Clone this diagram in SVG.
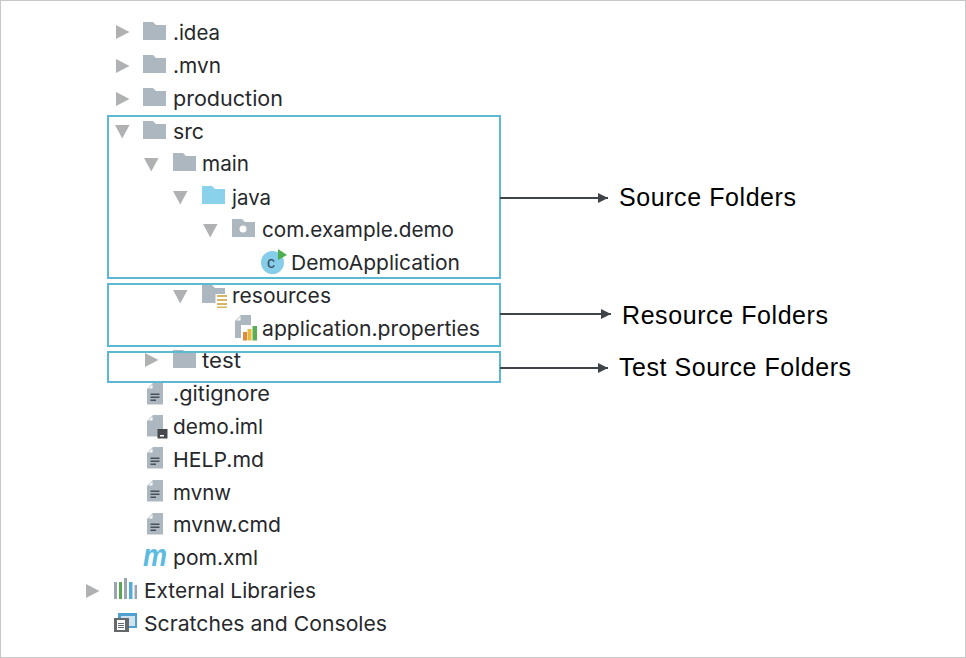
<svg xmlns="http://www.w3.org/2000/svg" width="966" height="658" viewBox="0 0 966 658">
<style>
.t{font-family:"Inter","Noto Sans",sans-serif;font-size:20.500px;fill:#26282b}
.l{font-family:"Liberation Sans",Arial,sans-serif;font-size:25px;fill:#000}
.box{fill:none;stroke:#5bb9d2;stroke-width:2}
.c{fill:none;stroke:#3f444a;stroke-width:2}
.g{fill:#afb1b3}
.f{fill:#adb7c0}
</style>
<defs>
<path id="right" class="g" d="M0 0L13.500 7L0 14Z"/>
<path id="down" class="g" d="M0 0L14.500 0L7.250 13.500Z"/>
<path id="folder" d="M0 0H10L13 3H23V18H0Z"/>
<g id="file">
<path class="f" d="M6 0H16V21.500H0V6Z"/>
<path fill="#fff" d="M1.500 5.500L5.500 1.500V5.500Z"/>
</g>
<g id="lines"><path fill="#4a5058" d="M3.500 10.500H12.500V12H3.500ZM3.500 13.500H12.500V15H3.500ZM3.500 16.500H9V18H3.500Z"/></g>
<marker id="arr" markerUnits="userSpaceOnUse" markerWidth="11" markerHeight="12" refX="10" refY="6" orient="auto"><path fill="#3f444a" d="M0 1L10 6L0 11Z"/></marker>
</defs>
<rect x="0.500" y="0.500" width="965" height="657" fill="#fff" stroke="#c8c8c8"/>

<g id="node-idea"><use href="#right" x="116" y="25"/><use href="#folder" class="f" x="143" y="22"/><text class="t" x="173" y="40" textLength="47" lengthAdjust="spacingAndGlyphs">.idea</text></g>
<g id="node-mvn"><use href="#right" x="116" y="59"/><use href="#folder" class="f" x="143" y="55"/><text class="t" x="173" y="73" textLength="48" lengthAdjust="spacingAndGlyphs">.mvn</text></g>
<g id="node-production"><use href="#right" x="116" y="92"/><use href="#folder" class="f" x="143" y="88"/><text class="t" x="173" y="106" textLength="110" lengthAdjust="spacingAndGlyphs">production</text></g>
<g id="node-src"><use href="#down" x="115" y="125"/><use href="#folder" class="f" x="143" y="121"/><text class="t" x="173" y="139" textLength="31" lengthAdjust="spacingAndGlyphs">src</text></g>
<g id="node-main"><use href="#down" x="144" y="158"/><use href="#folder" class="f" x="173" y="153"/><text class="t" x="202" y="171" textLength="47" lengthAdjust="spacingAndGlyphs">main</text></g>
<g id="node-java"><use href="#down" x="173" y="191"/><use href="#folder" fill="#8ad2ec" x="202" y="186"/><text class="t" x="232" y="205" textLength="39" lengthAdjust="spacingAndGlyphs">java</text></g>
<g id="node-package"><use href="#down" x="203" y="224"/><use href="#folder" class="f" x="232" y="219"/><circle cx="243" cy="229" r="3.500" fill="#fff"/><text class="t" x="262" y="237" textLength="192" lengthAdjust="spacingAndGlyphs">com.example.demo</text></g>
<g id="node-demoapp"><circle cx="272.500" cy="262.500" r="11.500" fill="#85cde8"/><text x="267" y="268" font-family="Liberation Sans,sans-serif" font-size="16" fill="#34485a">c</text><path fill="#4cae4f" d="M278 249L287 255L278 260Z"/><text class="t" x="291" y="270" textLength="169" lengthAdjust="spacingAndGlyphs">DemoApplication</text></g>
<g id="node-resources"><use href="#down" x="173" y="290"/><use href="#folder" class="f" x="202" y="285"/><rect x="215.500" y="294" width="12" height="15" fill="#fff"/><path fill="#d9b566" d="M217 295H227V297H217ZM217 299H227V301H217ZM217 303H227V305H217ZM217 306.500H227V308H217Z"/><text class="t" x="232" y="303" textLength="99" lengthAdjust="spacingAndGlyphs">resources</text></g>
<g id="node-properties"><use href="#file" x="235" y="315"/><path class="f" d="M235 321V338H251V321Z"/><rect x="241" y="325" width="17" height="16" fill="#fff"/><rect x="243" y="332" width="4" height="8.500" fill="#e08a3c"/><rect x="247.500" y="329" width="4" height="11.500" fill="#e8b93f"/><rect x="252.500" y="326" width="4.500" height="14.500" fill="#5cae54"/><text class="t" x="262" y="336" textLength="218" lengthAdjust="spacingAndGlyphs">application.properties</text></g>
<g id="node-test"><use href="#right" x="145" y="353"/><use href="#folder" class="f" x="173" y="350"/><text class="t" x="202" y="368" textLength="39" lengthAdjust="spacingAndGlyphs">test</text></g>
<g id="node-gitignore"><g transform="translate(147,383)"><use href="#file"/><use href="#lines"/></g><text class="t" x="173" y="401" textLength="97" lengthAdjust="spacingAndGlyphs">.gitignore</text></g>
<g id="node-demoiml"><g transform="translate(147,415)"><use href="#file"/></g><rect x="157.500" y="429" width="10" height="9.500" fill="#45484c"/><rect x="160" y="435" width="4" height="1.500" fill="#fff"/><text class="t" x="173" y="434" textLength="90" lengthAdjust="spacingAndGlyphs">demo.iml</text></g>
<g id="node-help"><g transform="translate(147,447)"><use href="#file"/><use href="#lines"/></g><text class="t" x="173" y="467" textLength="91" lengthAdjust="spacingAndGlyphs">HELP.md</text></g>
<g id="node-mvnw"><g transform="translate(147,480)"><use href="#file"/><use href="#lines"/></g><text class="t" x="173" y="500" textLength="58" lengthAdjust="spacingAndGlyphs">mvnw</text></g>
<g id="node-mvnwcmd"><g transform="translate(147,513)"><use href="#file"/><use href="#lines"/></g><text class="t" x="173" y="532" textLength="108" lengthAdjust="spacingAndGlyphs">mvnw.cmd</text></g>
<g id="node-pom"><text x="143" y="566" font-family="Liberation Sans,sans-serif" font-size="31" font-style="italic" font-weight="700" fill="#5bbbe0" textLength="24" lengthAdjust="spacingAndGlyphs">m</text><text class="t" x="173" y="565" textLength="85" lengthAdjust="spacingAndGlyphs">pom.xml</text></g>
<g id="node-libraries"><use href="#right" x="86" y="584"/>
<rect x="114" y="582" width="3" height="17" fill="#9aa5ae"/><rect x="119" y="582" width="3" height="17" fill="#5aa84f"/><rect x="124" y="578" width="3" height="21" fill="#9aa5ae"/><rect x="129" y="582" width="3.500" height="17" fill="#55acd6"/><rect x="134.500" y="585" width="2.500" height="14" fill="#9aa5ae"/>
<text class="t" x="144" y="598" textLength="172" lengthAdjust="spacingAndGlyphs">External Libraries</text></g>
<g id="node-scratches"><rect x="118" y="613" width="19" height="15" fill="#4f9fcf"/><rect x="121" y="616" width="14" height="10" fill="#cfe3ef"/><rect x="114" y="618" width="15" height="14" fill="#66696c"/><path fill="#fff" d="M117 620H125V630H117Z"/><path fill="#66696c" d="M118 623H124V624H118ZM118 625H124V626H118ZM118 627H124V628H118Z"/><text class="t" x="144" y="631" textLength="243" lengthAdjust="spacingAndGlyphs">Scratches and Consoles</text></g>

<g id="box-source"><rect class="box" x="108" y="116" width="392" height="162"/></g>
<g id="box-resource"><rect class="box" x="108" y="284" width="392" height="62"/></g>
<g id="box-test"><rect class="box" x="108" y="352" width="392" height="30"/></g>

<g id="connectors">
<path class="c" marker-end="url(#arr)" d="M500 198H608"/>
<path class="c" marker-end="url(#arr)" d="M500 314H611"/>
<path class="c" marker-end="url(#arr)" d="M500 368H608"/>
</g>
<g id="label-source"><text class="l" x="619" y="206" textLength="177">Source Folders</text></g>
<g id="label-resource"><text class="l" x="622" y="324" textLength="206">Resource Folders</text></g>
<g id="label-test"><text class="l" x="619" y="376" textLength="232">Test Source Folders</text></g>
</svg>
